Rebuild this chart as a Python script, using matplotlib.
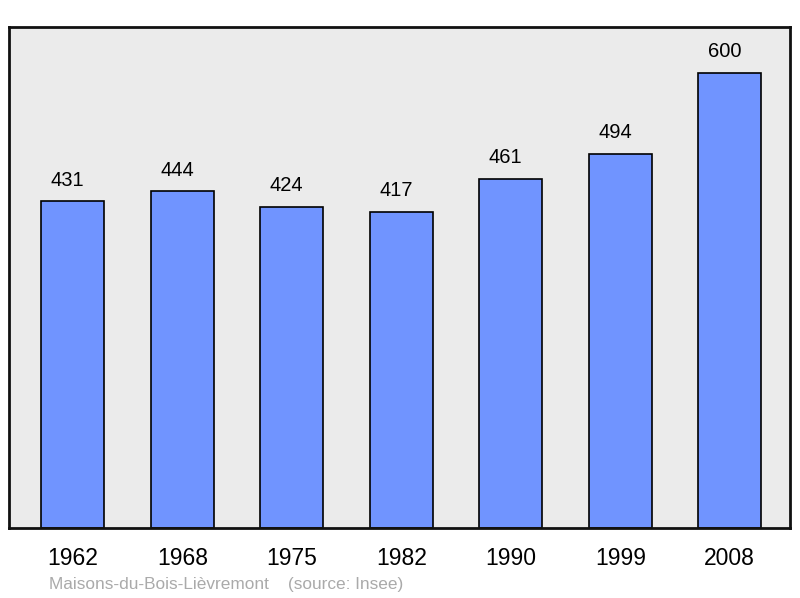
import matplotlib
matplotlib.use("Agg")
import matplotlib.pyplot as plt

years = ["1962", "1968", "1975", "1982", "1990", "1999", "2008"]
population = [431, 444, 424, 417, 461, 494, 600]
place = "Maisons-du-Bois-Lièvremont"
source = "(source: Insee)"

plt.rcParams['font.family'] = ['Liberation Sans', 'DejaVu Sans']

fig = plt.figure(figsize=(8, 5.98), dpi=100)
ax = fig.add_axes([9 / 800, 70 / 598, 781 / 800, 501 / 598])
ax.set_facecolor('#ebebeb')

x = list(range(len(years)))
bars = ax.bar(x, population, width=0.575, color='#7094ff', edgecolor='black', linewidth=1.2)
for xi, v in zip(x, population):
    # labels sit a little left of the bar centre in the original
    ax.annotate(str(v), (xi, v), xytext=(-3.8, 8.5), textcoords='offset points',
                ha='center', va='bottom', fontsize=14.5, color='black')

ax.set_xlim(-0.584, 6.55)
ax.set_ylim(0, 661)
ax.set_yticks([])
ax.set_xticks(x)
ax.set_xticklabels(years, fontsize=16.5)
ax.tick_params(axis='x', length=0, pad=14)
for s in ax.spines.values():
    s.set_linewidth(2)
    s.set_color('#111111')

fig.text(49 / 800, 1 - 584 / 598, place + "    " + source, fontsize=12.4,
         color='#aaaaaa', va='center', ha='left')

fig.savefig("out.png", dpi=100)
